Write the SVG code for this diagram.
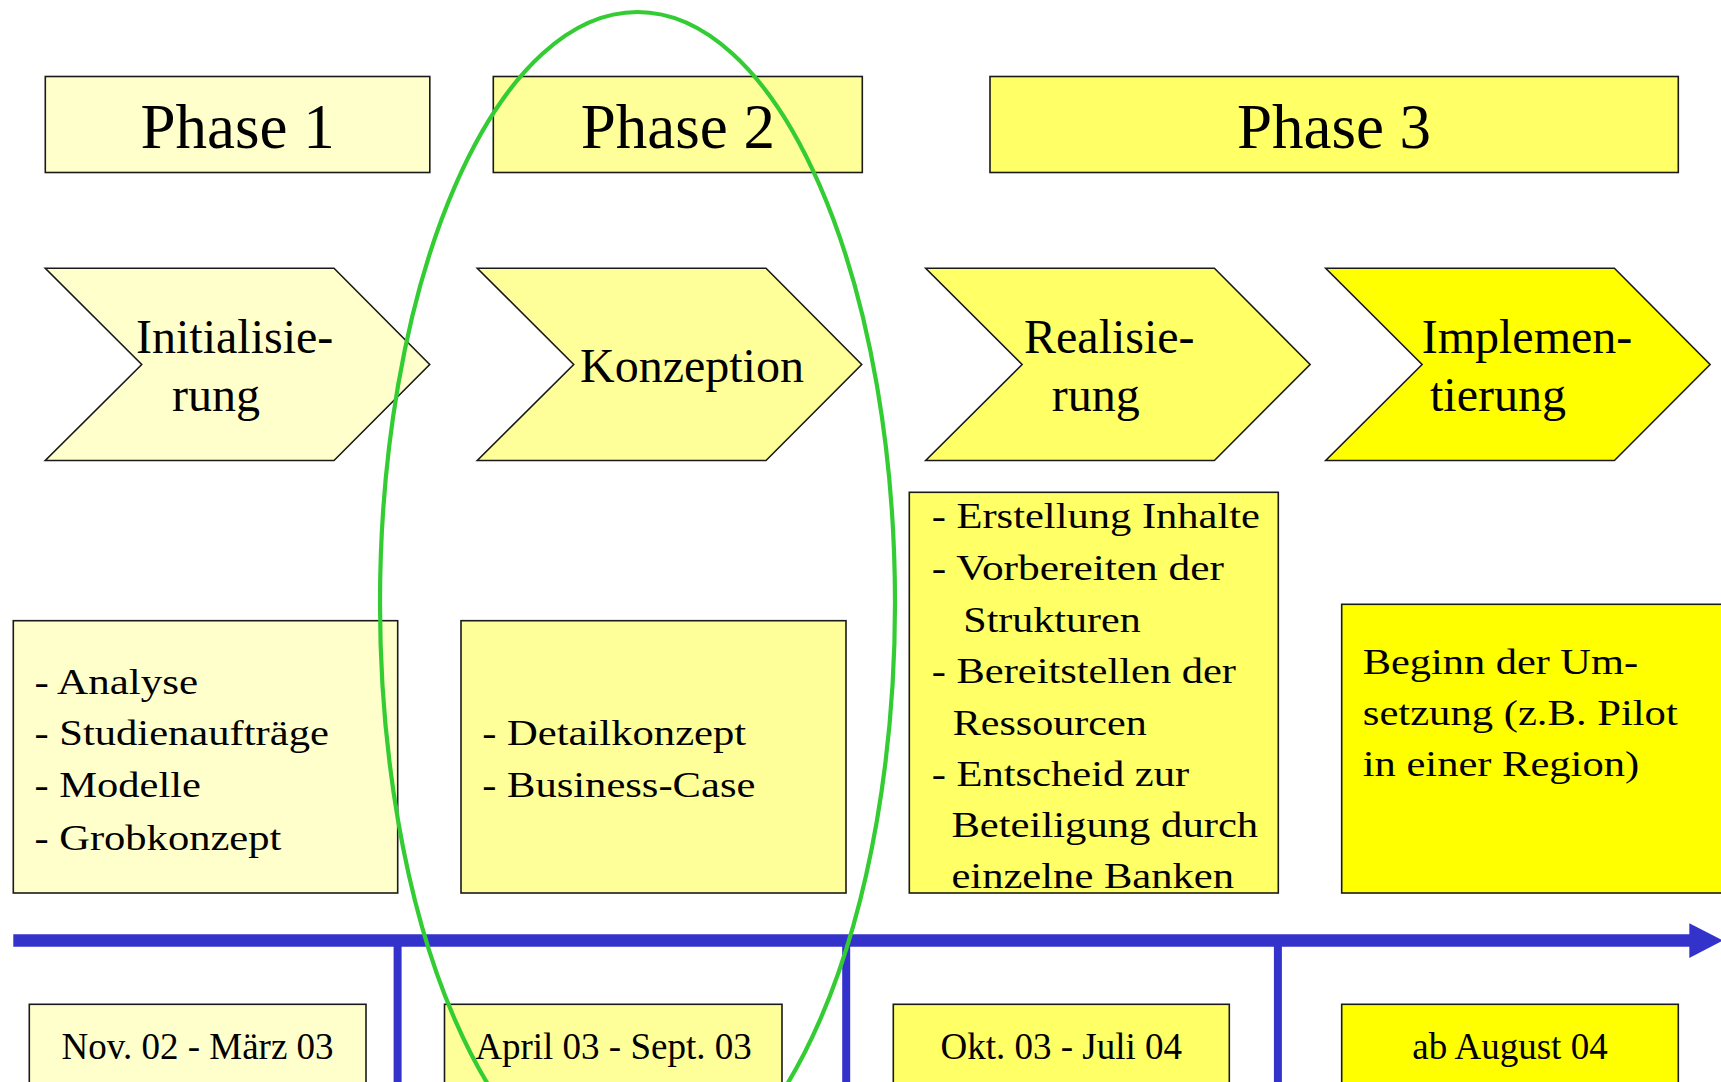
<svg xmlns="http://www.w3.org/2000/svg" width="1721" height="1082" viewBox="0 0 1721 1082">
<style>
  text { font-family: "Liberation Serif", "Times New Roman", serif; fill: #000; }
  .box { stroke: #1a1a1a; stroke-width: 1.6; }
  .c1 { fill: #FFFFCC; }
  .c2 { fill: #FFFF99; }
  .c3 { fill: #FFFF66; }
  .c4 { fill: #FFFF00; }
  .phase { font-size: 63px; text-anchor: middle; }
  .chev { font-size: 48px; }
  .item { font-size: 35px; }
  .date { font-size: 37px; text-anchor: middle; }
  .axis { stroke: #3333CC; fill: none; }
</style>
<rect width="1721" height="1082" fill="#FFFFFF"/>

<g id="phase1"><rect class="box c1" x="45.3" y="76.5" width="384.5" height="96"/><text class="phase" x="237.6" y="148.3">Phase 1</text></g>
<g id="phase2"><rect class="box c2" x="493.3" y="76.5" width="369" height="96"/><text class="phase" x="677.8" y="148.3">Phase 2</text></g>
<g id="phase3"><rect class="box c3" x="990" y="76.5" width="688.3" height="96"/><text class="phase" x="1334" y="148.3">Phase 3</text></g>

<g id="chev1"><polygon class="box c1" points="45.3,268.3 334,268.3 429.7,364.5 334,460.5 45.3,460.5 141.7,364.5"/>
  <text class="chev" x="136" y="352.7">Initialisie-</text><text class="chev" x="172" y="410.7">rung</text></g>
<g id="chev2"><polygon class="box c2" points="477.3,268.3 766,268.3 861.7,364.5 766,460.5 477.3,460.5 573.7,364.5"/>
  <text class="chev" x="580" y="381.7">Konzeption</text></g>
<g id="chev3"><polygon class="box c3" points="925.7,268.3 1214.4,268.3 1310.1,364.5 1214.4,460.5 925.7,460.5 1022.1,364.5"/>
  <text class="chev" x="1024" y="353.3">Realisie-</text><text class="chev" x="1051.7" y="411">rung</text></g>
<g id="chev4"><polygon class="box c4" points="1325.7,268.3 1614.4,268.3 1710.1,364.5 1614.4,460.5 1325.7,460.5 1422.1,364.5"/>
  <text class="chev" x="1421.7" y="353.3">Implemen-</text><text class="chev" x="1430" y="411">tierung</text></g>

<g id="box1"><rect class="box c1" x="13.3" y="620.7" width="384.4" height="272.3"/>
  <text class="item" x="34.4" y="693.5" textLength="163.6" lengthAdjust="spacingAndGlyphs">- Analyse</text>
  <text class="item" x="34.4" y="745.4" textLength="294.5" lengthAdjust="spacingAndGlyphs">- Studienaufträge</text>
  <text class="item" x="34.4" y="797.3" textLength="166.5" lengthAdjust="spacingAndGlyphs">- Modelle</text>
  <text class="item" x="34.4" y="849.5" textLength="246.9" lengthAdjust="spacingAndGlyphs">- Grobkonzept</text></g>
<g id="box2"><rect class="box c2" x="461" y="620.7" width="385" height="272.3"/>
  <text class="item" x="482.2" y="745.4" textLength="264" lengthAdjust="spacingAndGlyphs">- Detailkonzept</text>
  <text class="item" x="482.2" y="797.3" textLength="273.2" lengthAdjust="spacingAndGlyphs">- Business-Case</text></g>
<g id="box3"><rect class="box c3" x="909.3" y="492.3" width="369" height="400.7"/>
  <text class="item" x="931.7" y="528.3" textLength="328.3" lengthAdjust="spacingAndGlyphs">- Erstellung Inhalte</text>
  <text class="item" x="931.7" y="580" textLength="292.3" lengthAdjust="spacingAndGlyphs">- Vorbereiten der</text>
  <text class="item" x="963.3" y="631.7" textLength="177.4" lengthAdjust="spacingAndGlyphs">Strukturen</text>
  <text class="item" x="931.7" y="683.2" textLength="304.3" lengthAdjust="spacingAndGlyphs">- Bereitstellen der</text>
  <text class="item" x="952.7" y="734.7" textLength="194" lengthAdjust="spacingAndGlyphs">Ressourcen</text>
  <text class="item" x="931.7" y="786" textLength="257.5" lengthAdjust="spacingAndGlyphs">- Entscheid zur</text>
  <text class="item" x="951.4" y="837" textLength="306.8" lengthAdjust="spacingAndGlyphs">Beteiligung durch</text>
  <text class="item" x="951.4" y="888" textLength="282.7" lengthAdjust="spacingAndGlyphs">einzelne Banken</text></g>
<g id="box4"><rect class="box c4" x="1341.7" y="604.3" width="390" height="288.7"/>
  <text class="item" x="1362.8" y="673.9" textLength="275.2" lengthAdjust="spacingAndGlyphs">Beginn der Um-</text>
  <text class="item" x="1362.8" y="724.8" textLength="315" lengthAdjust="spacingAndGlyphs">setzung (z.B. Pilot</text>
  <text class="item" x="1362.8" y="776.2" textLength="276.3" lengthAdjust="spacingAndGlyphs">in einer Region)</text></g>

<g id="date1"><rect class="box c1" x="29.3" y="1004.3" width="336.7" height="90"/><text class="date" x="197.6" y="1059.3">Nov. 02 - März 03</text></g>
<g id="date2"><rect class="box c2" x="444.5" y="1004.3" width="337.5" height="90"/><text class="date" x="613.5" y="1059.3">April 03 - Sept. 03</text></g>
<g id="date3"><rect class="box c3" x="893.3" y="1004.3" width="336" height="90"/><text class="date" x="1061.3" y="1059.3">Okt. 03 - Juli 04</text></g>
<g id="date4"><rect class="box c4" x="1341.7" y="1004.3" width="336.6" height="90"/><text class="date" x="1510" y="1059.3">ab August 04</text></g>

<g id="connectors">
  <line class="axis" x1="13.3" y1="940.5" x2="1692" y2="940.5" stroke-width="12.4"/>
  <polygon points="1689.3,923.3 1723,940.5 1689.3,958" fill="#3333CC"/>
  <line class="axis" x1="397.6" y1="946" x2="397.6" y2="1090" stroke-width="8"/>
  <line class="axis" x1="846.2" y1="946" x2="846.2" y2="1090" stroke-width="8"/>
  <line class="axis" x1="1277.9" y1="946" x2="1277.9" y2="1090" stroke-width="8"/>
</g>

<g id="highlight">
  <ellipse cx="637.5" cy="603" rx="257.5" ry="591" fill="none" stroke="#33CC33" stroke-width="4.2"/>
</g>
</svg>
